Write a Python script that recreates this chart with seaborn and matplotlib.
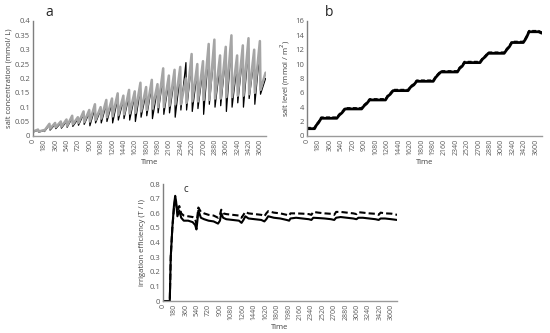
import numpy as np
import pandas as pd
import seaborn as sns
import matplotlib.pyplot as plt

# ---- panel a: salt concentration, one tooth per irrigation cycle ----
cycle_start = [0, 90, 180, 270, 360, 450, 540, 630, 720, 810, 900, 990, 1080, 1170,
               1260, 1350, 1440, 1530, 1620, 1710, 1800, 1890, 1980, 2070, 2160, 2250,
               2340, 2430, 2520, 2610, 2700, 2790, 2880, 2970, 3060, 3150, 3240, 3330,
               3420, 3510, 3600]
peak_time = [80, 170, 260, 350, 440, 530, 620, 710, 800, 890, 980, 1070, 1160, 1250,
             1340, 1430, 1520, 1610, 1700, 1790, 1880, 1970, 2060, 2150, 2240, 2330,
             2420, 2510, 2600, 2690, 2780, 2870, 2960, 3050, 3140, 3230, 3320, 3410,
             3500, 3590, 3680]
gray_trough = [0.015, 0.015, 0.018, 0.025, 0.03, 0.032, 0.035, 0.04, 0.045, 0.048, 0.05,
               0.055, 0.06, 0.065, 0.068, 0.072, 0.075, 0.078, 0.08, 0.085, 0.09, 0.095,
               0.1, 0.1, 0.105, 0.11, 0.11, 0.115, 0.12, 0.12, 0.125, 0.125, 0.13, 0.13,
               0.135, 0.135, 0.14, 0.14, 0.145, 0.15, 0.16]
gray_peak = [0.022, 0.02, 0.042, 0.045, 0.05, 0.057, 0.07, 0.065, 0.085, 0.09, 0.11, 0.1,
             0.125, 0.13, 0.148, 0.14, 0.16, 0.155, 0.185, 0.17, 0.195, 0.18, 0.235, 0.21,
             0.23, 0.24, 0.2, 0.285, 0.25, 0.26, 0.32, 0.335, 0.28, 0.31, 0.35, 0.28,
             0.315, 0.34, 0.3, 0.33, 0.22]
black_trough = [0.013, 0.013, 0.015, 0.02, 0.025, 0.027, 0.03, 0.033, 0.037, 0.04, 0.035,
                0.045, 0.045, 0.05, 0.045, 0.055, 0.06, 0.055, 0.05, 0.065, 0.07, 0.06,
                0.08, 0.075, 0.08, 0.065, 0.09, 0.09, 0.085, 0.095, 0.075, 0.11, 0.1,
                0.105, 0.085, 0.1, 0.115, 0.1, 0.13, 0.11, 0.145]
black_peak = [0.02, 0.018, 0.038, 0.04, 0.045, 0.05, 0.062, 0.058, 0.075, 0.08, 0.097,
              0.09, 0.11, 0.115, 0.13, 0.125, 0.14, 0.14, 0.165, 0.15, 0.175, 0.165, 0.21,
              0.19, 0.205, 0.215, 0.255, 0.255, 0.225, 0.235, 0.29, 0.3, 0.25, 0.28,
              0.315, 0.25, 0.285, 0.305, 0.27, 0.3, 0.2]

# ---- panel b: salt level steps ----
time_b = [0, 120, 150, 180, 225, 470, 510, 550, 600, 860, 900, 940, 985, 1235, 1270, 1310,
          1355, 1590, 1630, 1680, 1725, 1985, 2020, 2060, 2105, 2365, 2400, 2440, 2475,
          2720, 2760, 2800, 2850, 3100, 3140, 3180, 3220, 3400, 3430, 3455, 3490, 3640, 3690]
level_b = [1.0, 1.0, 1.5, 1.8, 2.45, 2.45, 2.9, 3.2, 3.75, 3.75, 4.2, 4.5, 5.0, 5.0, 5.5,
           5.8, 6.3, 6.3, 6.8, 7.1, 7.6, 7.6, 8.1, 8.5, 8.9, 8.9, 9.4, 9.7, 10.2, 10.2,
           10.7, 11.0, 11.5, 11.5, 12.0, 12.4, 13.0, 13.0, 13.4, 13.8, 14.5, 14.5, 14.3]

# ---- panel c: irrigation efficiency ----
time_c = [0, 110, 125, 150, 175, 195, 210, 230, 260, 290, 330, 400, 470, 510, 530, 545,
          560, 600, 650, 720, 800, 870, 900, 920, 950, 1000, 1100, 1200, 1240, 1270, 1300,
          1350, 1450, 1550, 1600, 1630, 1660, 1750, 1850, 1950, 1990, 2010, 2100, 2200,
          2300, 2340, 2370, 2450, 2550, 2650, 2700, 2730, 2800, 2900, 3000, 3050, 3080,
          3150, 3250, 3350, 3400, 3430, 3500, 3600, 3690]
eff_solid = [0, 0, 0.3, 0.5, 0.65, 0.72, 0.68, 0.58, 0.62, 0.57, 0.55, 0.55, 0.54, 0.52,
             0.49, 0.55, 0.62, 0.57, 0.56, 0.55, 0.545, 0.53, 0.55, 0.6, 0.57, 0.56, 0.555,
             0.55, 0.535, 0.555, 0.58, 0.565, 0.56, 0.555, 0.545, 0.56, 0.58, 0.57, 0.565,
             0.555, 0.55, 0.565, 0.57, 0.565, 0.56, 0.555, 0.57, 0.568, 0.565, 0.56, 0.555,
             0.57, 0.575, 0.57, 0.565, 0.56, 0.57, 0.57, 0.565, 0.56, 0.555, 0.565, 0.565,
             0.56, 0.555]
eff_dashed = [0, 0, 0.3, 0.5, 0.63, 0.7, 0.66, 0.62, 0.65, 0.6, 0.585, 0.58, 0.575, 0.56,
              0.53, 0.58, 0.64, 0.61, 0.6, 0.59, 0.585, 0.57, 0.59, 0.625, 0.6, 0.595,
              0.59, 0.585, 0.57, 0.59, 0.61, 0.6, 0.595, 0.59, 0.58, 0.6, 0.615, 0.605,
              0.6, 0.59, 0.585, 0.6, 0.6, 0.598, 0.595, 0.59, 0.61, 0.605, 0.6, 0.597,
              0.59, 0.61, 0.61, 0.605, 0.6, 0.595, 0.608, 0.605, 0.6, 0.597, 0.59, 0.605,
              0.6, 0.598, 0.59]

time_ticks = list(range(0, 3601, 180))

sns.set_style("white")
plt.rcParams['font.family'] = ['Open Sans', 'DejaVu Sans']

# interleave trough/peak points into sawtooth lines
saw_t = [v for pair in zip(cycle_start, peak_time) for v in pair]
df_a = pd.DataFrame({
    "t": saw_t * 2,
    "c": [v for p in zip(black_trough, black_peak) for v in p]
         + [v for p in zip(gray_trough, gray_peak) for v in p],
    "s": ["black"] * len(saw_t) + ["gray"] * len(saw_t),
})
df_b = pd.DataFrame({"t": time_b, "lvl": level_b})
df_c = pd.DataFrame({"t": time_c, "solid": eff_solid, "dashed": eff_dashed})

fig = plt.figure(figsize=(5.5, 3.33), dpi=100)
ax_a = fig.add_axes([0.06, 0.592, 0.424, 0.345])
ax_b = fig.add_axes([0.558, 0.592, 0.427, 0.345])
ax_c = fig.add_axes([0.296, 0.096, 0.426, 0.351])

sns.lineplot(data=df_a[df_a.s == "black"], x="t", y="c", ax=ax_a, color="black",
             lw=0.9, estimator=None)
sns.lineplot(data=df_a[df_a.s == "gray"], x="t", y="c", ax=ax_a, color="#a5a5a5",
             lw=1.8, estimator=None)

sns.lineplot(data=df_b, x="t", y="lvl", ax=ax_b, color="black", lw=2.0, estimator=None)
sns.lineplot(x=df_b.t, y=df_b.lvl + 0.12, ax=ax_b, color="black", lw=1.4,
             linestyle=(0, (2, 1.2)), estimator=None)

sns.lineplot(data=df_c, x="t", y="solid", ax=ax_c, color="black", lw=1.5, estimator=None)
sns.lineplot(data=df_c, x="t", y="dashed", ax=ax_c, color="black", lw=1.5,
             linestyle=(0, (3, 1.5)), estimator=None)

setup = [
    (ax_a, 0.4, [0, 0.05, 0.1, 0.15, 0.2, 0.25, 0.3, 0.35, 0.4],
     ["0", "0.05", "0.1", "0.15", "0.2", "0.25", "0.3", "0.35", "0.4"],
     "salt concentration (mmol/ L)"),
    (ax_b, 16, [0, 2, 4, 6, 8, 10, 12, 14, 16],
     ["0", "2", "4", "6", "8", "10", "12", "14", "16"],
     "salt level (mmol / m$^2$)"),
    (ax_c, 0.8, [0, 0.1, 0.2, 0.3, 0.4, 0.5, 0.6, 0.7, 0.8],
     ["0", "0.1", "0.2", "0.3", "0.4", "0.5", "0.6", "0.7", "0.8"],
     "irrigation efficiency (T / I)"),
]
for ax, ymax, yt, ytl, ylab in setup:
    ax.set_xlim(0, 3690)
    ax.set_ylim(0, ymax)
    ax.set_xticks(time_ticks)
    ax.set_xticklabels([str(v) for v in time_ticks], rotation=90, fontsize=5,
                       color="#595959")
    ax.set_yticks(yt)
    ax.set_yticklabels(ytl, fontsize=5.5, color="#595959")
    ax.tick_params(length=0, pad=2)
    ax.set_xlabel("Time", fontsize=5.5, color="#404040", labelpad=3)
    ax.set_ylabel(ylab, fontsize=5.5, color="#404040", labelpad=2)
    for side in ["top", "right"]:
        ax.spines[side].set_visible(False)
    ax.spines["left"].set_color("#7f7f7f")
    ax.spines["bottom"].set_color("#9a9a9a")
    ax.spines["left"].set_linewidth(1.0)
    ax.spines["bottom"].set_linewidth(1.0)

fig.text(49 / 550, 1 - 12 / 333, "a", fontsize=10, ha="center", va="center")
fig.text(329 / 550, 1 - 13 / 333, "b", fontsize=10, ha="center", va="center")
fig.text(186 / 550, 1 - 189 / 333, "c", fontsize=7, ha="center", va="center")

fig.savefig("out.png", dpi=100)
